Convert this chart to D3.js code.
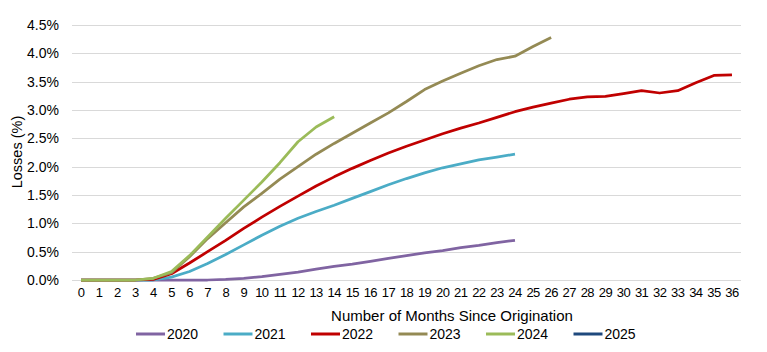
<!DOCTYPE html>
<html>
<head>
<meta charset="utf-8">
<script src="https://cdn.jsdelivr.net/npm/d3@7"></script>
<style>
  html, body { margin: 0; padding: 0; background: #fff; }
  text { font-family: "Liberation Sans", Arial, sans-serif; fill: #000; }
</style>
</head>
<body>
<svg id="chart" width="767" height="352"></svg>
<script>
const months = d3.range(0, 37).map(String);
const yTicks = [0, 0.5, 1.0, 1.5, 2.0, 2.5, 3.0, 3.5, 4.0, 4.5];
const seriesNames = ["2020", "2021", "2022", "2023", "2024", "2025"];
const seriesColors = ["#8064A2", "#4BACC6", "#C00000", "#948A54", "#9BBB59", "#1F497D"];

const v2020 = [0, 0, 0, 0, 0, 0, 0, 0, 0.01, 0.03, 0.06, 0.10, 0.14, 0.19, 0.24, 0.28, 0.33, 0.38, 0.43, 0.48, 0.52, 0.57, 0.61, 0.66, 0.70];
const v2021 = [0, 0, 0, 0, 0, 0.05, 0.15, 0.29, 0.45, 0.62, 0.79, 0.95, 1.09, 1.21, 1.32, 1.44, 1.56, 1.68, 1.79, 1.89, 1.98, 2.05, 2.12, 2.17, 2.22];
const v2022 = [0, 0, 0, 0, 0.01, 0.11, 0.30, 0.50, 0.70, 0.91, 1.11, 1.30, 1.48, 1.66, 1.82, 1.97, 2.11, 2.24, 2.36, 2.47, 2.58, 2.68, 2.77, 2.87, 2.97, 3.05, 3.12, 3.19, 3.23, 3.24, 3.29, 3.34, 3.30, 3.34, 3.48, 3.61, 3.62];
const v2023 = [0, 0, 0, 0, 0.03, 0.13, 0.41, 0.73, 1.01, 1.29, 1.53, 1.78, 2.00, 2.22, 2.41, 2.59, 2.77, 2.95, 3.15, 3.36, 3.51, 3.65, 3.78, 3.89, 3.95, 4.12, 4.28];
const v2024 = [0, 0, 0, 0, 0.03, 0.15, 0.43, 0.76, 1.09, 1.41, 1.73, 2.07, 2.44, 2.70, 2.88];
const v2025 = [];
const seriesValues = [v2020, v2021, v2022, v2023, v2024, v2025];

const svg = d3.select("#chart");
const plotLeft = 72, plotRight = 741, plotTop = 25, plotBottom = 280;

const x = d3.scaleBand().domain(months).range([plotLeft, plotRight]);
const y = d3.scaleLinear().domain([0, 4.5]).range([plotBottom, plotTop]);

// gridlines
svg.append("g").selectAll("line").data(yTicks).join("line")
  .attr("x1", plotLeft).attr("x2", plotRight)
  .attr("y1", d => Math.round(y(d)) + 0.5).attr("y2", d => Math.round(y(d)) + 0.5)
  .attr("stroke", "#d9d9d9").attr("stroke-width", 1);

// y axis labels
const yAxis = d3.axisLeft(y).tickValues(yTicks).tickFormat(d => d.toFixed(1) + "%").tickSize(0).tickPadding(0);
const yg = svg.append("g").attr("transform", `translate(59,0)`).call(yAxis);
yg.select(".domain").remove();
yg.selectAll("text").attr("font-family", "Liberation Sans, Arial, sans-serif").attr("font-size", "14px").attr("fill", "#000");

// x axis labels
const xAxis = d3.axisBottom(x).tickSize(0).tickPadding(0);
const xg = svg.append("g").attr("transform", `translate(0,${plotBottom + 8})`).call(xAxis);
xg.select(".domain").remove();
xg.selectAll("text").attr("font-family", "Liberation Sans, Arial, sans-serif").attr("font-size", "13px").attr("fill", "#000")
  .attr("letter-spacing", "-0.6px");

// axis titles
svg.append("text").attr("x", 452).attr("y", 321).attr("text-anchor", "middle")
  .attr("font-size", "15px").text("Number of Months Since Origination");
svg.append("text").attr("transform", "translate(22,152) rotate(-90)").attr("text-anchor", "middle")
  .attr("font-size", "14.5px").text("Losses (%)");

// lines
const line = d3.line().x((d, i) => x(months[i]) + x.bandwidth() / 2).y(d => y(d));
svg.append("g").selectAll("path").data(seriesValues).join("path")
  .attr("d", d => d.length ? line(d) : null)
  .attr("fill", "none")
  .attr("stroke", (d, i) => seriesColors[i])
  .attr("stroke-width", 2.75)
  .attr("stroke-linejoin", "round");

// legend
const lg = svg.append("g").selectAll("g").data(seriesNames).join("g")
  .attr("transform", (d, i) => `translate(${136 + i * 87.5},334)`);
lg.append("line").attr("x1", 0).attr("x2", 29).attr("y1", 0).attr("y2", 0)
  .attr("stroke", (d, i) => seriesColors[i]).attr("stroke-width", 3);
lg.append("text").attr("x", 31).attr("y", 5).attr("font-size", "14px").text(d => d);
</script>
</body>
</html>
